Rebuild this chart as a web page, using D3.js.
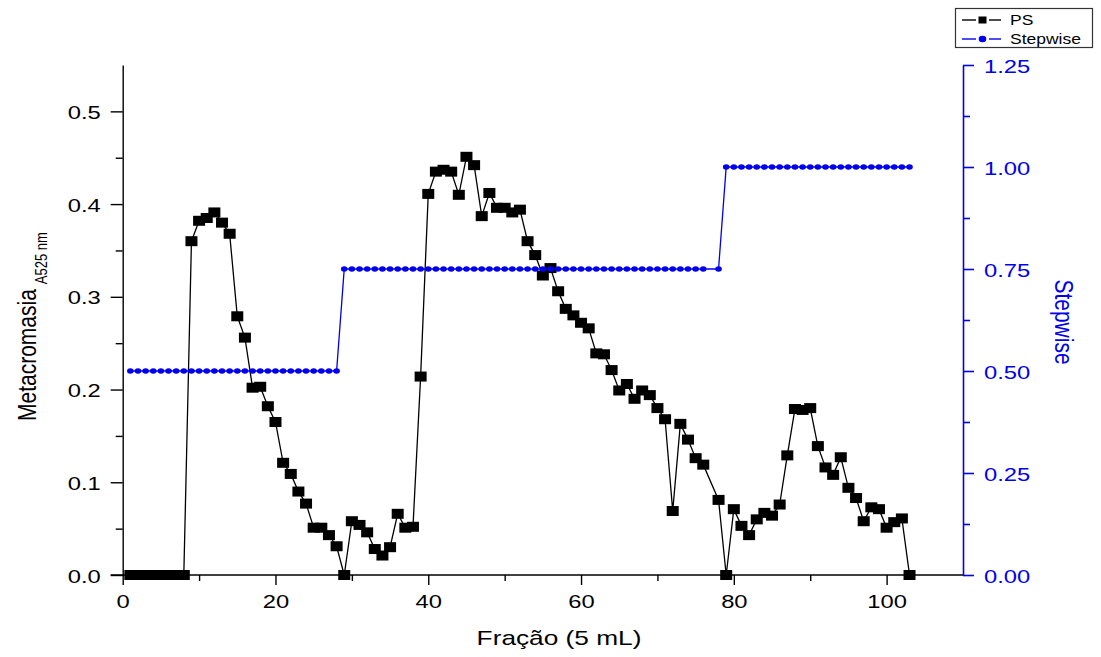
<!DOCTYPE html>
<html>
<head>
<meta charset="utf-8">
<script src="https://cdn.jsdelivr.net/npm/d3@7"></script>
<style>
  body { margin: 0; background: #fff; }
  svg { display: block; font-family: "Liberation Sans", Arial, sans-serif; }
</style>
</head>
<body>
<svg id="chart" width="1101" height="657"></svg>
<script>
// fraction numbers (fraction 77 was not measured)
const fractions = [
  1, 2, 3, 4, 5, 6, 7, 8, 9, 10, 11, 12, 13, 14, 15, 16, 17, 18, 19, 20,
  21, 22, 23, 24, 25, 26, 27, 28, 29, 30, 31, 32, 33, 34, 35, 36, 37, 38, 39, 40,
  41, 42, 43, 44, 45, 46, 47, 48, 49, 50, 51, 52, 53, 54, 55, 56, 57, 58, 59, 60,
  61, 62, 63, 64, 65, 66, 67, 68, 69, 70, 71, 72, 73, 74, 75, 76, 78, 79, 80,
  81, 82, 83, 84, 85, 86, 87, 88, 89, 90, 91, 92, 93, 94, 95, 96, 97, 98, 99, 100,
  101, 102, 103
];

// metacromasia A525 nm (left axis)
const psValues = [
  0, 0, 0, 0, 0, 0, 0, 0, 0.360, 0.382, 0.385, 0.391, 0.380, 0.368, 0.279, 0.256, 0.202, 0.203, 0.182, 0.165,
  0.121, 0.109, 0.090, 0.077, 0.051, 0.051, 0.043, 0.031, 0.000, 0.058, 0.054, 0.046, 0.028, 0.021, 0.030, 0.066, 0.051, 0.052, 0.214, 0.411,
  0.435, 0.437, 0.435, 0.410, 0.451, 0.442, 0.387, 0.412, 0.396, 0.396, 0.391, 0.394, 0.360, 0.345, 0.323, 0.331, 0.306, 0.287, 0.280, 0.272,
  0.266, 0.239, 0.238, 0.221, 0.199, 0.206, 0.190, 0.199, 0.194, 0.180, 0.168, 0.069, 0.163, 0.146, 0.126, 0.119, 0.081, 0.000, 0.071,
  0.053, 0.043, 0.060, 0.067, 0.064, 0.076, 0.129, 0.179, 0.178, 0.180, 0.139, 0.116, 0.108, 0.127, 0.094, 0.083, 0.058, 0.073, 0.071, 0.051,
  0.057, 0.061, 0.000
];

// stepwise elution (right axis)
const stepValues = [
  0.5, 0.5, 0.5, 0.5, 0.5, 0.5, 0.5, 0.5, 0.5, 0.5, 0.5, 0.5, 0.5, 0.5, 0.5, 0.5, 0.5, 0.5, 0.5, 0.5,
  0.5, 0.5, 0.5, 0.5, 0.5, 0.5, 0.5, 0.5, 0.75, 0.75, 0.75, 0.75, 0.75, 0.75, 0.75, 0.75, 0.75, 0.75, 0.75, 0.75,
  0.75, 0.75, 0.75, 0.75, 0.75, 0.75, 0.75, 0.75, 0.75, 0.75, 0.75, 0.75, 0.75, 0.75, 0.75, 0.75, 0.75, 0.75, 0.75, 0.75,
  0.75, 0.75, 0.75, 0.75, 0.75, 0.75, 0.75, 0.75, 0.75, 0.75, 0.75, 0.75, 0.75, 0.75, 0.75, 0.75, 0.75, 1, 1,
  1, 1, 1, 1, 1, 1, 1, 1, 1, 1, 1, 1, 1, 1, 1, 1, 1, 1, 1, 1,
  1, 1, 1
];

const xTicks = [0, 20, 40, 60, 80, 100];
const xMinorTicks = [10, 30, 50, 70, 90];
const leftTicks = [0, 0.1, 0.2, 0.3, 0.4, 0.5];
const leftMinorTicks = [0.05, 0.15, 0.25, 0.35, 0.45];
const rightTicks = [0, 0.25, 0.5, 0.75, 1.0, 1.25];
const rightMinorTicks = [0.125, 0.375, 0.625, 0.875, 1.125];

// the source picture is stretched sideways, so text gets a horizontal stretch too
const stretch = 1.25;
const blue = "#0000ee";

const svg = d3.select("#chart");

const plotLeft = 122.7, plotRight = 963, plotTop = 65, plotBottom = 575;

let x = d3.scaleLinear().domain([0, 110]).range([plotLeft, plotRight]);
let yL = d3.scaleLinear().domain([0, 0.55]).range([plotBottom, plotTop]);
let yR = d3.scaleLinear().domain([0, 1.25]).range([plotBottom, plotTop]);

let ps = fractions.map((f, i) => ({ f: f, v: psValues[i] }));
let step = fractions.map((f, i) => ({ f: f, v: stepValues[i] }));

// ---- axes ----
function restyleText(sel, dx, dy, anchor, color) {
  sel.selectAll("text")
    .attr("x", null).attr("y", null).attr("dy", null)
    .attr("text-anchor", anchor)
    .attr("fill", color)
    .style("font-size", "19px")
    .attr("transform", "translate(" + dx + "," + dy + ") scale(" + stretch + ",1)");
}

// bottom axis
let gx = svg.append("g").attr("transform", "translate(0," + plotBottom + ")");
gx.call(d3.axisBottom(x).tickValues(xTicks).tickSize(10).tickSizeOuter(0).tickFormat(d3.format("d")));
gx.append("g").call(d3.axisBottom(x).tickValues(xMinorTicks).tickSize(6).tickFormat(""))
  .select(".domain").remove();
gx.selectAll(".domain").attr("d", "M" + (plotLeft - 12) + ",0H" + plotRight);
gx.selectAll("line,path").attr("stroke", "#000").attr("stroke-width", 1.4);
restyleText(gx, 0, 33, "middle", "#000");

// left axis
let gy = svg.append("g").attr("transform", "translate(" + plotLeft + ",0)");
gy.call(d3.axisLeft(yL).tickValues(leftTicks).tickSize(12).tickSizeOuter(0).tickFormat(d3.format(".1f")));
gy.append("g").call(d3.axisLeft(yL).tickValues(leftMinorTicks).tickSize(7).tickFormat(""))
  .select(".domain").remove();
gy.selectAll("line,path").attr("stroke", "#000").attr("stroke-width", 1.4);
restyleText(gy, -22, 7, "end", "#000");

// right axis
let gr = svg.append("g").attr("transform", "translate(" + plotRight + ",0)");
gr.call(d3.axisRight(yR).tickValues(rightTicks).tickSize(11).tickSizeOuter(0).tickFormat(d3.format(".2f")));
gr.append("g").call(d3.axisRight(yR).tickValues(rightMinorTicks).tickSize(7).tickFormat(""))
  .select(".domain").remove();
gr.selectAll("line,path").attr("stroke", blue).attr("stroke-width", 1.6);
restyleText(gr, 21, 7, "start", blue);

// ---- axis titles ----
svg.append("text")
  .attr("transform", "translate(559,645) scale(" + stretch + ",1)")
  .attr("text-anchor", "middle")
  .style("font-size", "21px")
  .text("Fração (5 mL)");

let ytitle = svg.append("text")
  .attr("transform", "translate(36,421) scale(" + stretch + ",1) rotate(-90)")
  .style("font-size", "21px");
ytitle.append("tspan").text("Metacromasia");
ytitle.append("tspan").attr("dx", 5).attr("dy", 9).style("font-size", "13px").text("A525 nm");

svg.append("text")
  .attr("transform", "translate(1055,322) scale(" + stretch + ",1) rotate(90)")
  .attr("text-anchor", "middle")
  .attr("fill", blue)
  .style("font-size", "21px")
  .text("Stepwise");

// ---- series ----
let linePS = d3.line().x(d => x(d.f)).y(d => yL(d.v));
let lineStep = d3.line().x(d => x(d.f)).y(d => yR(d.v));

svg.append("path").datum(ps)
  .attr("d", linePS)
  .attr("fill", "none").attr("stroke", "#000").attr("stroke-width", 1.3);

svg.append("g").selectAll("rect").data(ps).enter().append("rect")
  .attr("x", d => x(d.f) - 6)
  .attr("y", d => yL(d.v) - 5)
  .attr("width", 12).attr("height", 10)
  .attr("fill", "#000");

svg.append("path").datum(step)
  .attr("d", lineStep)
  .attr("fill", "none").attr("stroke", blue).attr("stroke-width", 1.3);

svg.append("g").selectAll("ellipse").data(step).enter().append("ellipse")
  .attr("cx", d => x(d.f))
  .attr("cy", d => yR(d.v))
  .attr("rx", 3.3).attr("ry", 2.8)
  .attr("fill", blue);

// ---- legend ----
let lg = svg.append("g");
lg.append("rect")
  .attr("x", 955.5).attr("y", 8.5).attr("width", 137).attr("height", 39)
  .attr("fill", "#fff").attr("stroke", "#333").attr("stroke-width", 1.2);

let legendItems = [
  { name: "PS", color: "#000", shape: "square", y: 20 },
  { name: "Stepwise", color: blue, shape: "circle", y: 39 }
];

legendItems.forEach(item => {
  // Origin-style sample: short dash, marker, short dash
  [[962, 976], [989, 1001]].forEach(seg => {
    lg.append("line")
      .attr("x1", seg[0]).attr("x2", seg[1]).attr("y1", item.y).attr("y2", item.y)
      .attr("stroke", item.color).attr("stroke-width", 1.4);
  });
  if (item.shape == "square") {
    lg.append("rect").attr("x", 978.5).attr("y", item.y - 3.5).attr("width", 8).attr("height", 7).attr("fill", item.color);
  } else {
    lg.append("ellipse").attr("cx", 982.5).attr("cy", item.y).attr("rx", 3.8).attr("ry", 3.2).attr("fill", item.color);
  }
  lg.append("text")
    .attr("transform", "translate(1010," + (item.y + 5) + ") scale(" + stretch + ",1)")
    .style("font-size", "14px")
    .attr("fill", "#000")
    .text(item.name);
});
</script>
</body>
</html>
